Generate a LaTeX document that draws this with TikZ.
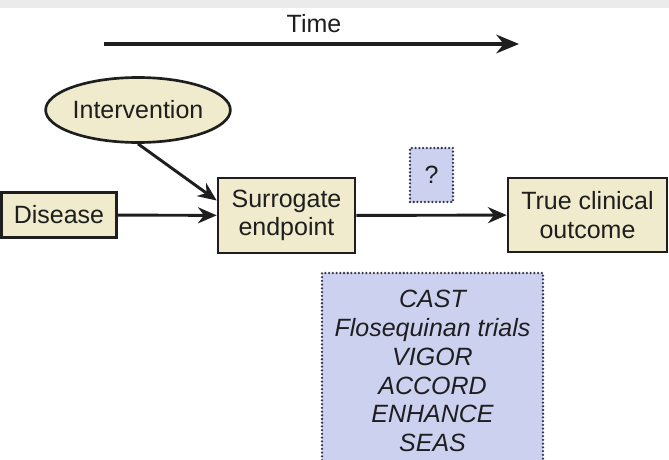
\documentclass[tikz,border=0pt]{standalone}
\usepackage{fontspec}
\setmainfont{Liberation Sans}
\usetikzlibrary{arrows.meta,shapes.geometric}
\definecolor{beige}{HTML}{EFEBCC}
\definecolor{lav}{HTML}{CDD1F0}
\definecolor{ink}{HTML}{1E1E1E}
\definecolor{dotink}{HTML}{33354A}
\definecolor{band}{HTML}{EBEBEB}
\begin{document}
\begin{tikzpicture}[x=0.75pt,y=-0.75pt,
  every node/.style={font=\fontsize{18.75}{21.4}\selectfont, text=ink, inner sep=0pt, align=center},
  solidbox/.style={draw=ink, line width=2pt, fill=beige},
  dotbox/.style={draw=dotink, line width=1.9pt, line cap=round, dash pattern=on 0pt off 2.8pt, fill=lav},
  conn/.style={draw=ink, line width=2.2pt, -{Stealth[length=14pt,width=12pt,inset=4.5pt]}},
  timearrow/.style={draw=ink, line width=2.6pt, -{Stealth[length=17pt,width=14pt,inset=5.5pt]}},
]
\clip (0,0) rectangle (669,460);
\fill[white] (0,0) rectangle (669,460);
\fill[band] (0,0) rectangle (669,8);

% time axis
\node (time) at (314,24) {Time};
\coordinate (t0) at (104,44);
\coordinate (t1) at (519,44);
\draw[timearrow] (t0) -- (t1);

% main chain
\node[solidbox, ellipse, minimum width={163*0.75pt}, minimum height={65*0.75pt}] (int) at (138,110) {Intervention};
\node[solidbox, minimum width={115*0.75pt}, minimum height={45*0.75pt}] (dis) at (59,215) {Disease};
\node[solidbox, minimum width={137*0.75pt}, minimum height={75*0.75pt}] (sur) at (286.5,215.5) {Surrogate\\endpoint};
\node[solidbox, minimum width={159*0.75pt}, minimum height={74*0.75pt}] (out) at (587.5,215) {True clinical\\outcome};

% unknown link and trial list
\node[dotbox, minimum width={43*0.75pt}, minimum height={54*0.75pt}] (q) at (431.5,175) {?};
\node[dotbox, minimum width={221*0.75pt}, minimum height={196*0.75pt}, font=\fontsize{18.75}{21.6}\selectfont\itshape] (trials) at (432.5,371)
  {CAST\\Flosequinan trials\\VIGOR\\ACCORD\\ENHANCE\\SEAS};

% connectors
\draw[conn] (dis) -- (sur);
\draw[conn] (int.south) -- ([yshift=11.25pt]sur.west);
\draw[conn] (sur) -- (out);
\end{tikzpicture}
\end{document}
